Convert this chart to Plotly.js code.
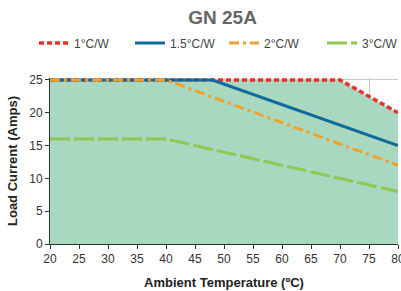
<!DOCTYPE html>
<html><head><meta charset="utf-8">
<script src="https://cdn.plot.ly/plotly-3.0.1.min.js"></script>
<style>html,body{margin:0;padding:0;background:#fff}#chart{width:401px;height:291px}</style>
</head><body><div id="chart"></div>
<script>
const seriesNames = ["1°C/W", "1.5°C/W", "2°C/W", "3°C/W"];
const x1 = [20, 70, 80];     const y1 = [25, 25, 20];
const x15 = [20, 48, 80];    const y15 = [25, 25, 15];
const x2 = [20, 40, 80];     const y2 = [25, 25, 12];
const x3 = [20, 40, 80];     const y3 = [16, 16, 8];
const xTicks = [20, 25, 30, 35, 40, 45, 50, 55, 60, 65, 70, 75, 80];
const yTicks = [0, 5, 10, 15, 20, 25];

const traces = [
  {x: x1, y: y1, mode: 'lines', fill: 'tozeroy', fillcolor: '#a8d9c0', line: {width: 0}, showlegend: false, hoverinfo: 'skip'},
  {x: x1, y: y1, name: seriesNames[0], legend: 'legend', mode: 'lines', line: {color: '#ea3129', width: 3.5, dash: '5px,3px'}},
  {x: x15, y: y15, name: seriesNames[1], legend: 'legend2', mode: 'lines', line: {color: '#0f6b9b', width: 3}},
  {x: x2, y: y2, name: seriesNames[2], legend: 'legend3', mode: 'lines', line: {color: '#eea12e', width: 3, dash: '10px,4px,3px,4px'}},
  {x: x3, y: y3, name: seriesNames[3], legend: 'legend4', mode: 'lines', line: {color: '#8fc851', width: 3, dash: '20px,4px'}}
];

const legFont = {size: 12, color: '#444'};
function leg(xpx) {
  return {orientation: 'h', xref: 'container', yref: 'container', x: xpx / 401, xanchor: 'left', y: 1 - 43 / 291, yanchor: 'middle', font: legFont, bgcolor: 'rgba(0,0,0,0)'};
}

const layout = {
  width: 401, height: 291,
  margin: {l: 50, r: 3, t: 78, b: 47},
  paper_bgcolor: '#fff', plot_bgcolor: '#fff',
  font: {family: 'Liberation Sans, Arial, sans-serif', size: 12, color: '#333'},
  title: {text: '<b>GN 25A</b>', x: 0.555, xanchor: 'center', y: 0.94, yanchor: 'middle', font: {size: 19, color: '#666'}},
  showlegend: true,
  legend: leg(34), legend2: leg(130), legend3: leg(224), legend4: leg(322),
  xaxis: {
    range: [20, 80], tickvals: xTicks, ticktext: xTicks.map(String), automargin: false,
    showgrid: true, gridcolor: '#c8c8c8', gridwidth: 1,
    showline: true, linecolor: '#333', linewidth: 1,
    ticks: 'outside', ticklen: 4, tickcolor: '#333', ticklabeloverflow: 'allow',
    tickfont: {size: 12, color: '#333'}, zeroline: false,
    title: {text: '<b>Ambient Temperature (ºC)</b>', font: {size: 13, color: '#222'}, standoff: 12}
  },
  yaxis: {
    range: [0, 25.3], tickvals: yTicks, ticktext: yTicks.map(String), automargin: false,
    showgrid: true, gridcolor: '#c8c8c8', gridwidth: 1,
    showline: true, linecolor: '#333', linewidth: 1,
    ticks: 'outside', ticklen: 4, tickcolor: '#333',
    tickfont: {size: 12, color: '#333'}, zeroline: false,
    title: {text: '<b>Load Current (Amps)</b>', font: {size: 13, color: '#222'}, standoff: 8}
  }
};
Plotly.newPlot('chart', traces, layout, {displayModeBar: false, staticPlot: true});
</script></body></html>
